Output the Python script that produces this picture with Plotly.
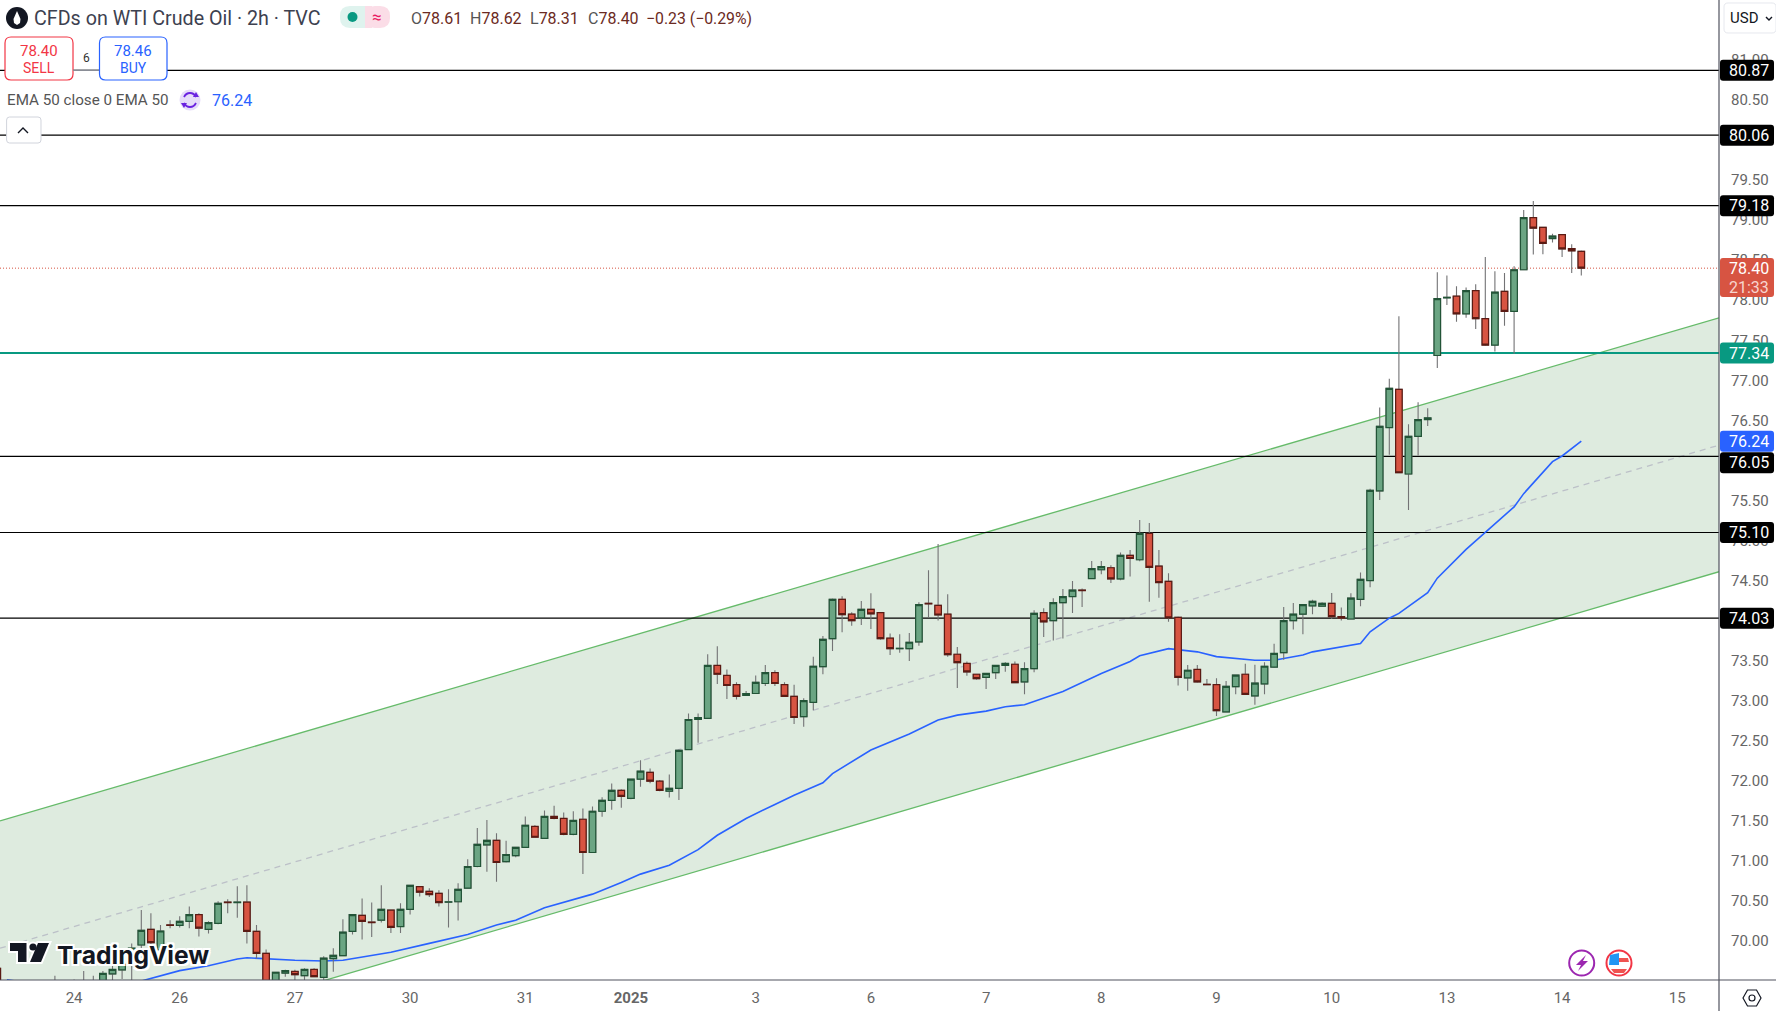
import plotly.graph_objects as go

# candles, 2h bars, oldest first (the first few sit below the visible axis)
opens = [69.66,
    69.42,69.38,69.36,69.39,69.37,69.40,69.38,69.41,69.44,69.42,
    69.45,69.59,69.64,69.76,69.95,70.145,69.89,70.20,70.195,70.245,
    70.33,70.145,70.22,70.485,70.48,70.485,70.12,69.845,69.45,69.60,
    69.62,69.567,69.645,69.545,69.78,69.817,70.12,70.32,70.235,70.26,
    70.385,70.18,70.395,70.68,70.62,70.595,70.485,70.49,70.66,70.93,
    71.20,71.257,70.99,71.065,71.17,71.43,71.28,71.555,71.53,71.33,
    71.52,71.105,71.62,71.755,71.88,71.78,72.02,72.105,71.995,71.87,
    71.905,72.39,72.765,72.78,73.44,73.315,73.2,73.065,73.09,73.215,
    73.35,73.2,73.055,72.80,72.98,73.425,73.775,74.265,74.08,74.035,
    74.14,74.10,73.78,73.65,73.65,73.735,74.215,74.19,74.08,73.58,
    73.465,73.33,73.29,73.35,73.44,73.455,73.235,73.40,74.10,74.0,
    74.225,74.30,74.38,74.525,74.635,74.66,74.52,74.815,74.76,75.09,
    74.68,74.49,74.04,73.285,73.39,73.205,73.20,72.86,73.175,73.33,
    73.06,73.21,73.42,73.60,74.0,74.08,74.185,74.18,74.215,74.05,
    74.02,74.265,74.50,75.62,76.41,76.887,75.83,76.30,76.51,77.31,
    78.03,78.05,77.83,78.12,77.77,77.44,78.11,77.86,78.38,79.03,
    78.91,78.77,78.82,78.645,78.61]
closes = [69.45,
    69.38,69.36,69.39,69.37,69.40,69.38,69.41,69.44,69.42,69.45,
    69.595,69.645,69.71,69.91,70.133,69.98,70.125,70.195,70.245,70.33,
    70.16,70.23,70.47,70.48,70.485,70.12,69.845,69.45,69.61,69.63,
    69.58,69.645,69.555,69.785,69.82,70.11,70.33,70.245,70.23,70.395,
    70.17,70.395,70.695,70.61,70.58,70.48,70.49,70.645,70.93,71.207,
    71.257,70.98,71.08,71.17,71.445,71.295,71.555,71.53,71.33,71.505,
    71.105,71.62,71.755,71.88,71.805,72.02,72.12,71.995,71.88,71.905,
    72.38,72.765,72.79,73.44,73.33,73.19,73.055,73.09,73.23,73.35,
    73.215,73.055,72.79,73.0,73.43,73.765,74.265,74.075,74.0,74.14,
    74.085,73.775,73.65,73.655,73.73,74.20,74.21,74.07,73.575,73.475,
    73.36,73.275,73.34,73.44,73.465,73.225,73.40,74.09,73.985,74.225,
    74.30,74.38,74.375,74.65,74.675,74.52,74.815,74.775,75.09,74.665,
    74.475,74.035,73.29,73.38,73.235,73.20,72.875,73.18,73.32,73.08,
    73.22,73.43,73.59,74.0,74.08,74.20,74.24,74.215,74.05,74.03,
    74.28,74.515,75.626,76.425,76.90,75.846,76.30,76.51,76.53,78.02,
    78.035,77.83,78.12,77.77,77.44,78.10,77.86,78.38,79.03,78.90,
    78.71,78.80,78.64,78.617,78.40]
highs = [69.66,
    69.47,69.44,69.45,69.46,69.48,69.565,69.48,69.52,69.625,69.565,
    69.625,69.70,69.79,69.97,70.387,70.345,70.20,70.26,70.31,70.43,
    70.345,70.245,70.495,70.52,70.685,70.695,70.20,69.895,69.61,69.64,
    69.64,69.66,69.66,69.81,69.91,70.27,70.33,70.53,70.48,70.695,
    70.385,70.47,70.695,70.68,70.66,70.635,70.645,70.72,71.02,71.41,
    71.51,71.345,71.25,71.17,71.555,71.445,71.63,71.69,71.605,71.62,
    71.655,71.68,71.795,71.965,71.895,72.02,72.255,72.155,72.01,72.08,
    72.39,72.84,72.84,73.58,73.68,73.39,73.23,73.12,73.315,73.445,
    73.38,73.23,73.2,73.03,73.55,73.807,74.275,74.305,74.105,74.245,
    74.34,74.10,73.84,73.83,73.845,74.23,74.63,74.955,74.33,73.67,
    73.49,73.33,73.34,73.44,73.48,73.49,73.48,74.13,74.155,74.28,
    74.395,74.495,74.40,74.745,74.745,74.69,74.85,74.88,75.255,75.22,
    74.88,74.59,74.05,73.445,73.445,73.27,73.28,73.245,73.32,73.46,
    73.45,73.48,73.71,74.17,74.22,74.20,74.26,74.23,74.345,74.165,
    74.34,74.60,75.645,76.66,77.02,77.80,76.45,76.725,76.65,78.35,
    78.31,78.175,78.16,78.20,78.54,78.36,78.34,78.425,79.125,79.24,
    78.91,78.83,78.82,78.70,78.62]
lows = [69.40,
    69.33,69.30,69.31,69.32,69.33,69.30,69.33,69.35,69.36,69.35,
    69.40,69.51,69.525,69.45,69.75,69.93,69.85,70.16,70.17,70.16,
    70.055,70.095,70.21,70.345,70.29,69.97,69.78,69.40,69.40,69.555,
    69.50,69.45,69.55,69.50,69.615,69.817,70.08,70.02,70.05,70.23,
    70.10,70.10,70.33,70.555,70.55,70.43,70.17,70.255,70.66,70.92,
    70.865,70.74,70.98,71.045,71.17,71.295,71.28,71.52,71.32,71.32,
    70.835,71.105,71.55,71.64,71.665,71.77,71.925,71.97,71.87,71.79,
    71.76,72.39,72.475,72.78,73.21,73.02,73.015,73.06,73.09,73.185,
    73.185,73.05,72.71,72.675,72.88,73.33,73.62,73.855,73.935,73.945,
    73.895,73.76,73.57,73.60,73.495,73.685,74.045,74.0,73.55,73.16,
    73.31,73.26,73.145,73.27,73.36,73.225,73.08,73.355,73.795,73.75,
    73.775,74.095,74.17,74.525,74.58,74.47,74.505,74.55,74.74,74.235,
    74.285,73.985,73.19,73.125,73.225,73.2,72.81,72.86,73.08,73.08,
    72.95,73.08,73.41,73.51,73.89,73.83,74.08,74.18,74.02,74.0,
    74.02,74.18,74.415,75.505,76.07,75.846,75.38,76.06,76.43,77.155,
    77.94,77.73,77.78,77.64,77.43,77.36,77.68,77.33,78.38,78.57,
    78.575,78.72,78.54,78.34,78.31]

# EMA 50 at these bars
ema_bars = [1,5,10,15,19,22,25,26,31,34,36,41,45,49,52,54,57,60,62,65,67,70,73,75,78,81,83,
    86,87,91,95,98,100,103,105,107,111,115,118,119,122,125,127,131,133,136,137,142,143,
    145,146,149,150,153,155,158,159,160,162,163,165]
ema_vals = [69.515,69.45,69.44,69.50,69.63,69.69,69.775,69.79,69.76,69.75,69.76,69.86,69.97,
    70.08,70.20,70.26,70.415,70.52,70.585,70.73,70.835,70.945,71.14,71.32,71.53,71.705,71.82,
    71.975,72.09,72.385,72.585,72.76,72.82,72.87,72.925,72.95,73.115,73.34,73.49,73.56,73.65,
    73.61,73.55,73.505,73.505,73.57,73.61,73.715,73.86,74.03,74.09,74.35,74.53,74.89,75.10,
    75.42,75.585,75.72,75.985,76.055,76.24]

# channel at left and right edge of the pane
channel_upper = [71.50, 77.78]
channel_mid = [69.91, 76.19]
channel_lower = [68.32, 74.61]

levels = [80.87, 80.06, 79.18, 76.05, 75.10, 74.03]
support = 77.34
last_price = 78.40

y_ticks = [70 + 0.5 * i for i in range(23)]
x_tick_bars = [8, 19, 31, 43, 55, 66, 79, 91, 103, 115, 127, 139, 151, 163, 175]
x_tick_text = ["24", "26", "27", "30", "31", "<b>2025</b>", "3", "6", "7", "8", "9", "10", "13", "14", "15"]

W, H = 1776, 1011
PANE_W, PANE_H = 1719, 980
BAR_W = 9.6
BAR0_PX = -2.7
X_RANGE = [(0 - BAR0_PX) / BAR_W, (PANE_W - BAR0_PX) / BAR_W]
Y_RANGE = [69.513, 81.748]
FONT = "Roboto"


def px(x):
    return x / PANE_W


def py(y):
    return 1 - y / PANE_H


def price_y(p):
    return (Y_RANGE[1] - p) / (Y_RANGE[1] - Y_RANGE[0]) * PANE_H


def round_rect(x0, y0, x1, y1, r):
    k = [(x0 + r, y0), (x1 - r, y0), (x1, y0 + r), (x1, y1 - r), (x1 - r, y1), (x0 + r, y1), (x0, y1 - r), (x0, y0 + r)]
    c = [(x1, y0), (x1, y1), (x0, y1), (x0, y0)]
    f = lambda q: "%.5f %.5f" % (px(q[0]), py(q[1]))
    return ("M" + f(k[0]) + " L" + f(k[1]) + " Q" + f(c[0]) + " " + f(k[2]) + " L" + f(k[3]) + " Q" + f(c[1]) + " " + f(k[4])
            + " L" + f(k[5]) + " Q" + f(c[2]) + " " + f(k[6]) + " L" + f(k[7]) + " Q" + f(c[3]) + " " + f(k[0]) + " Z")


def poly(points, close=True):
    s = "M" + " L".join("%.5f %.5f" % (px(a), py(b)) for a, b in points)
    return s + (" Z" if close else "")


shapes = []
notes = []


def add_path(path, fill=None, line=None, width=0):
    shapes.append(dict(type="path", xref="paper", yref="paper", path=path, layer="above",
                       fillcolor=fill if fill else "rgba(0,0,0,0)",
                       line=dict(color=line if line else "rgba(0,0,0,0)", width=width)))


def add_circle(cx, cy, r, fill=None, line=None, width=0):
    shapes.append(dict(type="circle", xref="paper", yref="paper", layer="above",
                       x0=px(cx - r), x1=px(cx + r), y0=py(cy + r), y1=py(cy - r),
                       fillcolor=fill if fill else "rgba(0,0,0,0)",
                       line=dict(color=line if line else "rgba(0,0,0,0)", width=width)))


def add_text(x, y, text, size=15, color="#555555", anchor="left", family=FONT, **font_extra):
    notes.append(dict(xref="paper", yref="paper", x=px(x), y=py(y), text=text, showarrow=False,
                      xanchor=anchor, yanchor="middle", borderpad=0,
                      font=dict(size=size, color=color, family=family, **font_extra)))


fig = go.Figure()
bars = list(range(len(opens)))
edge = X_RANGE

# channel
fig.add_trace(go.Scatter(x=edge, y=channel_lower, mode="lines", line=dict(color="#66bb6a", width=1.3)))
fig.add_trace(go.Scatter(x=edge, y=channel_upper, mode="lines", line=dict(color="#66bb6a", width=1.3),
                         fill="tonexty", fillcolor="#deebdf"))
fig.add_trace(go.Scatter(x=edge, y=channel_mid, mode="lines", line=dict(color="#bcc0c8", width=1.3, dash="6px,5px")))

# horizontal levels
for lv in levels:
    fig.add_trace(go.Scatter(x=edge, y=[lv, lv], mode="lines", line=dict(color="#000000", width=1.2)))
fig.add_trace(go.Scatter(x=edge, y=[support, support], mode="lines", line=dict(color="#089981", width=2)))
fig.add_trace(go.Scatter(x=edge, y=[last_price, last_price], mode="lines", line=dict(color="#d75442", width=1, dash="1px,2px")))

fig.add_trace(go.Scatter(x=ema_bars, y=ema_vals, mode="lines", line=dict(color="#2962ff", width=1.6)))

# candles go on an overlaying pair of axes, else the channel fill covers them
# wicks first (grey), bodies on top with their darker border
fig.add_trace(go.Candlestick(x=bars, open=opens, high=highs, low=lows, close=closes, xaxis="x2", yaxis="y2",
                             increasing=dict(line=dict(color="#737375", width=1.1), fillcolor="#737375"),
                             decreasing=dict(line=dict(color="#737375", width=1.1), fillcolor="#737375")))
fig.add_trace(go.Candlestick(x=bars, open=opens, close=closes, xaxis="x2", yaxis="y2",
                             high=[max(a, b) for a, b in zip(opens, closes)],
                             low=[min(a, b) for a, b in zip(opens, closes)],
                             increasing=dict(line=dict(color="#225437", width=1.2), fillcolor="#6ba583"),
                             decreasing=dict(line=dict(color="#5b1a13", width=1.2), fillcolor="#d75442")))

# frame lines
add_path(poly([(PANE_W, 0), (PANE_W, H)], False), line="#50535e", width=1.2)
add_path(poly([(0, PANE_H), (W, PANE_H)], False), line="#50535e", width=1.2)

# price labels
for lv in levels:
    cy = price_y(lv)
    if lv == 76.05:
        cy = 462.7
    add_path(round_rect(1720, cy - 10.5, 1774, cy + 10.5, 3), fill="#000000")
    add_text(1749, cy, "%.2f" % lv, size=16, color="#ffffff", anchor="center")
add_path(round_rect(1720, price_y(76.24) - 10.5, 1774, price_y(76.24) + 10.5, 3), fill="#2962ff")
add_text(1749, price_y(76.24), "76.24", size=16, color="#ffffff", anchor="center")
add_path(round_rect(1720, price_y(support) - 10.5, 1774, price_y(support) + 10.5, 3), fill="#089981")
add_text(1749, price_y(support), "77.34", size=16, color="#ffffff", anchor="center")
add_path(round_rect(1720, 258, 1774, 297, 3), fill="#d75442")
add_text(1749, 268.3, "78.40", size=16, color="#ffffff", anchor="center")
add_text(1749, 287, "21:33", size=16, color="#f7d4ce", anchor="center")

# header
add_circle(17, 18, 11, fill="#131722")
add_path(poly([(17, 11), (20.5, 19), (20, 23), (17, 25), (14, 23), (13.5, 19)]), fill="#ffffff")
add_text(33, 18, "CFDs on WTI Crude Oil · 2h · TVC", size=19.7, color="#3d4150")
add_path(round_rect(340, 6, 375, 28, 10), fill="#dff3ee")
add_path(round_rect(365, 6, 390, 28, 10), fill="#fbdde7")
add_path(poly([(365, 6), (372, 6), (372, 28), (365, 28)]), fill="#fbdde7")
add_circle(352.5, 17, 5, fill="#089981")
add_text(377, 17, "≈", size=17, color="#e91e63", anchor="center")
val = "#6b2a22"
lab = "#555555"
add_text(410, 18, "<span style='color:%s'>O</span>78.61" % lab, size=16, color=val)
add_text(469, 18, "<span style='color:%s'>H</span>78.62" % lab, size=16, color=val)
add_text(529, 18, "<span style='color:%s'>L</span>78.31" % lab, size=16, color=val)
add_text(587, 18, "<span style='color:%s'>C</span>78.40" % lab, size=16, color=val)
add_text(645, 18, "−0.23 (−0.29%)", size=15.8, color=val)

# sell / buy
add_path(round_rect(5, 37, 73, 80, 6), fill="#ffffff", line="#f23645", width=1.2)
add_text(39, 51, "78.40", size=15, color="#f23645", anchor="center")
add_text(39, 68, "SELL", size=14, color="#f23645", anchor="center")
add_path(round_rect(73, 69.5, 99.5, 71, 0), fill="#8a8d96")
add_text(86, 58, "6", size=12, color="#333333", anchor="center")
add_path(round_rect(99.5, 37, 167, 80, 6), fill="#ffffff", line="#2962ff", width=1.2)
add_text(133, 51, "78.46", size=15, color="#2962ff", anchor="center")
add_text(133, 68, "BUY", size=14, color="#2962ff", anchor="center")

# indicator legend
add_text(6, 100, "EMA 50 close 0 EMA 50", size=15.2, color="#555555")
add_circle(190, 100, 10.5, fill="#e6dcf9")
add_path("M%.5f %.5f Q%.5f %.5f %.5f %.5f Q%.5f %.5f %.5f %.5f" % (px(184), py(97), px(186), py(93), px(190), py(93), px(194), py(93), px(196), py(97)), line="#6a22e0", width=1.8)
add_path("M%.5f %.5f Q%.5f %.5f %.5f %.5f Q%.5f %.5f %.5f %.5f" % (px(184), py(103), px(186), py(107), px(190), py(107), px(194), py(107), px(196), py(103)), line="#6a22e0", width=1.8)
add_path(poly([(193, 97), (199, 97), (196, 92)]), fill="#6a22e0")
add_path(poly([(181, 103), (187, 103), (184, 108)]), fill="#6a22e0")
add_text(211, 100, "76.24", size=16, color="#2962ff")

# collapse button
add_path(round_rect(6.6, 117, 41, 143, 3), fill="#ffffff", line="#d1d4dc", width=1)
add_path(poly([(18, 133), (23, 128), (28, 133)], False), line="#131722", width=1.4)

# currency box
add_path(round_rect(1724, 3, 1776, 33, 4), fill="#ffffff", line="#e6e8ee", width=1)
add_text(1729, 18, "USD", size=15, color="#131722")
add_path(poly([(1766, 17), (1769, 20), (1772, 17)], False), line="#131722", width=1.4)

# settings
add_path(poly([(1743, 998), (1747.5, 990), (1756.5, 990), (1761, 998), (1756.5, 1006), (1747.5, 1006)]), line="#131722", width=1.2)
add_circle(1752, 998, 3, line="#131722", width=1.2)

# event icons
add_circle(1581.7, 963, 12.5, fill="#ffffff", line="#9c27b0", width=2)
add_path(poly([(1586, 955), (1576, 965), (1581, 965), (1578, 971), (1588, 961), (1583, 961)]), fill="#9c27b0")
add_circle(1619, 963, 12.5, fill="#ffffff", line="#f23645", width=2)
add_path(poly([(1610, 955), (1619, 953), (1619, 965), (1609, 965)]), fill="#2196f3")
add_path(poly([(1619, 958), (1628, 958), (1629, 962), (1619, 962)]), fill="#ef5350")
add_path(poly([(1611, 969), (1627, 969), (1624, 973), (1614, 973)]), fill="#ef5350")

# watermark
for fill, line, w in [("#ffffff", "#ffffff", 4), ("#131722", None, 0)]:
    add_path(poly([(10, 943), (26.5, 943), (26.5, 962), (18, 962), (18, 951), (10, 951)]), fill=fill, line=line, width=w)
    add_circle(33, 947, 3.6, fill=fill, line=line, width=w)
    add_path(poly([(38, 943), (49, 943), (41, 962), (30, 962)]), fill=fill, line=line, width=w)
halo = ",".join("%dpx %dpx 0 #fff" % (a, b) for a in (-2, 0, 2) for b in (-2, 0, 2))
add_text(56, 955, "TradingView", size=24.6, color="#131722", family="Inter", weight=700, shadow=halo)

fig.update_layout(
    width=W, height=H, autosize=False,
    margin=dict(l=0, r=W - PANE_W, t=0, b=H - PANE_H, pad=0),
    paper_bgcolor="#ffffff", plot_bgcolor="#ffffff",
    showlegend=False, hovermode=False,
    boxmode="overlay", boxgap=0.32, boxgroupgap=0,
    font=dict(family=FONT),
    shapes=shapes, annotations=notes,
    xaxis=dict(range=X_RANGE, rangeslider=dict(visible=False), showgrid=False, zeroline=False, showline=False,
               tickmode="array", tickvals=x_tick_bars, ticktext=x_tick_text, ticks="outside", ticklen=4,
               tickcolor="rgba(0,0,0,0)", tickfont=dict(size=15, color="#666666", family=FONT)),
    yaxis=dict(range=Y_RANGE, side="right", showgrid=False, zeroline=False, showline=False,
               tickmode="array", tickvals=y_ticks, ticktext=["%.2f" % v for v in y_ticks], ticks="outside", ticklen=8,
               tickcolor="rgba(0,0,0,0)", tickfont=dict(size=15, color="#666666", family=FONT)),
    xaxis2=dict(range=X_RANGE, overlaying="x", visible=False, rangeslider=dict(visible=False)),
    yaxis2=dict(range=Y_RANGE, overlaying="y", visible=False),
)

fig.write_html("out.html", config={"displayModeBar": False},
               post_script="document.body.style.margin='0';document.body.style.overflow='hidden';")
